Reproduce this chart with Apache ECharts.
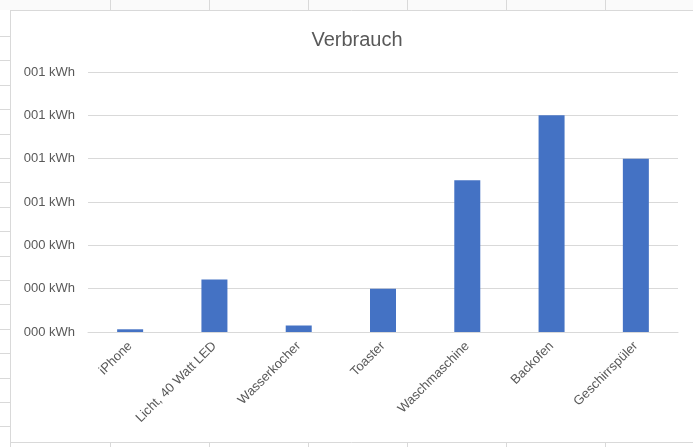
<!DOCTYPE html>
<html>
<head>
<meta charset="utf-8">
<script src="https://cdn.jsdelivr.net/npm/echarts@6/dist/echarts.min.js"></script>
<style>
  html, body { margin: 0; padding: 0; background: #ffffff; }
  #chart { width: 693px; height: 447px; }
</style>
</head>
<body>
<div id="chart"></div>
<script>
// Energieverbrauch je Gerät
const categories = ['iPhone', 'Licht, 40 Watt LED', 'Wasserkocher', 'Toaster', 'Waschmaschine', 'Backofen', 'Geschirrspüler'];
const verbrauch = [0.0000125, 0.000242, 0.00003, 0.0002, 0.0007, 0.001, 0.0008];
const yTickLabels = ['000 kWh', '000 kWh', '000 kWh', '001 kWh', '001 kWh', '001 kWh', '001 kWh'];
const yStep = 0.0002;

const lineColor = '#d9d9d9';
const textColor = '#595959';
const fontFamily = '"Liberation Sans", Arial, sans-serif';

// Sheet cell borders around the chart object
const frame = [];
frame.push({ type: 'rect', silent: true, shape: { x: 0, y: 0, width: 693, height: 10 }, style: { fill: '#fafafa' } });
frame.push({ type: 'line', silent: true, shape: { x1: 10, y1: 10.5, x2: 693, y2: 10.5 }, style: { stroke: lineColor, lineWidth: 1 } });
frame.push({ type: 'line', silent: true, shape: { x1: 10.5, y1: 10, x2: 10.5, y2: 447 }, style: { stroke: lineColor, lineWidth: 1 } });
frame.push({ type: 'line', silent: true, shape: { x1: 10, y1: 442.5, x2: 693, y2: 442.5 }, style: { stroke: lineColor, lineWidth: 1 } });
for (let x = 110; x < 693; x += 99) {
  frame.push({ type: 'line', silent: true, shape: { x1: x + 0.5, y1: 0, x2: x + 0.5, y2: 10 }, style: { stroke: lineColor, lineWidth: 1 } });
  frame.push({ type: 'line', silent: true, shape: { x1: x + 0.5, y1: 443, x2: x + 0.5, y2: 447 }, style: { stroke: lineColor, lineWidth: 1 } });
}
for (let y = 36; y < 442; y += 24.4) {
  const yy = Math.round(y) + 0.5;
  frame.push({ type: 'line', silent: true, shape: { x1: 0, y1: yy, x2: 10, y2: yy }, style: { stroke: lineColor, lineWidth: 1 } });
}

const chart = echarts.init(document.getElementById('chart'), null, { renderer: 'canvas' });

chart.setOption({
  animation: false,
  backgroundColor: '#ffffff',
  title: {
    text: 'Verbrauch',
    left: 352,
    textAlign: 'center',
    top: 25,
    textStyle: { color: textColor, fontSize: 20, fontWeight: 'normal', fontFamily: fontFamily }
  },
  graphic: frame,
  grid: { left: 88, right: 15, top: 72, bottom: 115, containLabel: false },
  xAxis: {
    type: 'category',
    data: categories,
    axisLine: { show: true, lineStyle: { color: lineColor, width: 1 } },
    axisTick: { show: false },
    axisLabel: {
      rotate: 45,
      interval: 0,
      margin: 12,
      color: textColor,
      fontSize: 13,
      fontFamily: fontFamily
    }
  },
  yAxis: {
    type: 'value',
    min: 0,
    max: yStep * (yTickLabels.length - 1),
    interval: yStep,
    axisLine: { show: false },
    axisTick: { show: false },
    splitLine: { show: true, lineStyle: { color: lineColor, width: 1 } },
    axisLabel: {
      margin: 13,
      color: textColor,
      fontSize: 13,
      fontFamily: fontFamily,
      formatter: function (v) { return yTickLabels[Math.round(v / yStep)]; }
    }
  },
  series: [{
    type: 'bar',
    data: verbrauch,
    barWidth: 26,
    itemStyle: { color: '#4472c4' }
  }]
});
</script>
</body>
</html>
